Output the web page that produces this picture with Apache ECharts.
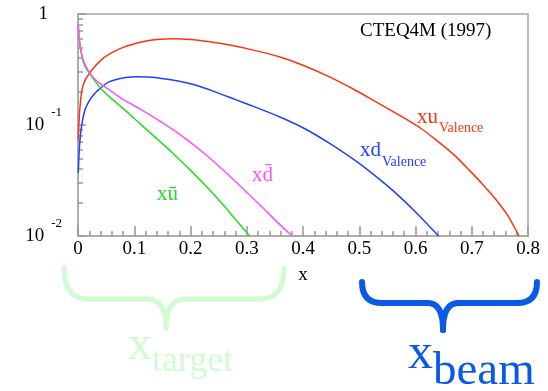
<!DOCTYPE html>
<html>
<head>
<meta charset="utf-8">
<script src="https://cdn.jsdelivr.net/npm/echarts@6/dist/echarts.min.js"></script>
<style>html,body{margin:0;padding:0;background:#fff}#c{width:548px;height:391px}</style>
</head>
<body>
<div id="c"></div>
<script>
// ---- data ----
const xTicks = [0, 0.1, 0.2, 0.3, 0.4, 0.5, 0.6, 0.7, 0.8];
const yDecades = [0.01, 0.1, 1];
const yMinor = [0.02,0.03,0.04,0.05,0.06,0.07,0.08,0.09,0.2,0.3,0.4,0.5,0.6,0.7,0.8,0.9];
const xMinor = [0.02,0.04,0.06,0.08,0.12,0.14,0.16,0.18,0.22,0.24,0.26,0.28,0.32,0.34,0.36,0.38,0.42,0.44,0.46,0.48,0.52,0.54,0.56,0.58,0.62,0.64,0.66,0.68,0.72,0.74,0.76,0.78];

const xuValence = [[0.0005,0.073],[0.0015,0.10],[0.003,0.135],[0.0065,0.20],[0.012,0.25],[0.024,0.31],[0.04,0.38],[0.054,0.43],[0.08,0.50],[0.113,0.56],[0.14,0.59],[0.17,0.60],[0.2,0.59],[0.231,0.565],[0.27,0.525],[0.31,0.475],[0.359,0.41],[0.40,0.345],[0.448,0.27],[0.49,0.21],[0.519,0.174],[0.578,0.117],[0.61,0.093],[0.637,0.073],[0.67,0.053],[0.696,0.039],[0.72,0.029],[0.744,0.021],[0.765,0.015],[0.784,0.01]];
const xdValence = [[0.0005,0.037],[0.0015,0.05],[0.003,0.068],[0.006,0.095],[0.0124,0.137],[0.02,0.165],[0.03,0.193],[0.04,0.215],[0.054,0.243],[0.075,0.262],[0.101,0.272],[0.125,0.270],[0.149,0.263],[0.18,0.248],[0.208,0.229],[0.24,0.202],[0.279,0.17],[0.32,0.142],[0.359,0.118],[0.40,0.0944],[0.448,0.068],[0.49,0.049],[0.519,0.038],[0.56,0.0256],[0.6,0.01644],[0.641,0.01]];
const xUbar = [[0.0005,0.80],[0.002,0.62],[0.0036,0.52],[0.006,0.44],[0.0094,0.37],[0.015,0.32],[0.021,0.29],[0.03,0.25],[0.042,0.21],[0.06,0.172],[0.083,0.137],[0.11,0.103],[0.143,0.073],[0.17,0.0548],[0.202,0.0382],[0.235,0.0257],[0.26,0.0186],[0.28,0.0141],[0.305,0.01]];
const xDbar = [[0.0005,0.80],[0.002,0.62],[0.0036,0.53],[0.006,0.45],[0.0094,0.385],[0.015,0.33],[0.024,0.28],[0.035,0.245],[0.054,0.21],[0.08,0.17],[0.113,0.137],[0.14,0.113],[0.172,0.0885],[0.2,0.0697],[0.231,0.052],[0.255,0.0406],[0.279,0.0313],[0.305,0.0234],[0.329,0.0179],[0.355,0.0132],[0.381,0.01]];

const seriesNames = ['xu Valence', 'xd Valence', 'xū', 'xd̄'];
const seriesColors = ['#ff3311', '#2040ff', '#22dd22', '#ff50ff'];

const FONT = '"Liberation Serif", "DejaVu Serif", serif';
const FRAME = '#a8a8a8';
const TICK = '#999999';

function txt(x, y, text, size, color) {
  return { type: 'text', x: x, y: y, style: { text: text, font: size + 'px ' + FONT, fill: color, verticalAlign: 'middle', align: 'left' } };
}
function bl(b, size) { return b - 0.34 * size; }

function brace(xl, xc, xr, yTop, yMid, yTip, r, rc, color, w) {
  const st = { fill: 'none', stroke: color, lineWidth: w, lineCap: 'round' };
  return { type: 'group', children: [
    { type: 'bezierCurve', shape: { x1: xl, y1: yTop, x2: xl + r, y2: yMid, cpx1: xl, cpy1: yMid }, style: st },
    { type: 'line', shape: { x1: xl + r, y1: yMid, x2: xc - rc, y2: yMid }, style: st },
    { type: 'bezierCurve', shape: { x1: xc - rc, y1: yMid, x2: xc, y2: yTip, cpx1: xc, cpy1: yMid }, style: st },
    { type: 'bezierCurve', shape: { x1: xc, y1: yTip, x2: xc + rc, y2: yMid, cpx1: xc, cpy1: yMid }, style: st },
    { type: 'line', shape: { x1: xc + rc, y1: yMid, x2: xr - r, y2: yMid }, style: st },
    { type: 'bezierCurve', shape: { x1: xr - r, y1: yMid, x2: xr, y2: yTop, cpx1: xr, cpy1: yMid }, style: st }
  ]};
}

const chart = echarts.init(document.getElementById('c'));
chart.setOption({
  animation: false,
  backgroundColor: '#fff',
  grid: { left: 78, right: 20, top: 14, bottom: 155, show: true, borderColor: FRAME, borderWidth: 1.5, backgroundColor: 'transparent' },
  xAxis: [{
    type: 'value', min: 0, max: 0.8, interval: 0.1,
    name: 'x', nameLocation: 'middle', nameGap: 30,
    nameTextStyle: { fontFamily: FONT, fontSize: 19, color: '#000' },
    axisLine: { show: true, lineStyle: { color: FRAME, width: 1.5 } },
    axisTick: { show: true, inside: true, length: 10, lineStyle: { color: TICK, width: 1.5 } },
    axisLabel: { margin: 4, fontFamily: FONT, fontSize: 19, color: '#000',
      formatter: function (v) { return String(Math.round(v * 10) / 10); } },
    splitLine: { show: false }
  }, {
    type: 'value', min: 0, max: 0.8, position: 'bottom',
    axisLine: { show: false },
    axisTick: { show: true, inside: true, length: 5, customValues: xMinor, lineStyle: { color: TICK, width: 1.5 } },
    axisLabel: { show: false },
    splitLine: { show: false }
  }],
  yAxis: [{
    type: 'log', logBase: 10, min: 0.01, max: 1,
    axisLine: { show: true, lineStyle: { color: FRAME, width: 1.5 } },
    axisTick: { show: true, inside: true, length: 8, lineStyle: { color: TICK, width: 1.5 } },
    axisLabel: { margin: 16,
      formatter: function (v) {
        const e = Math.round(Math.log10(v));
        if (e === 0) return '{one|1}';
        return '{b|10}{s|' + e + '}';
      },
      rich: {
        one: { fontFamily: FONT, fontSize: 19, color: '#000', padding: [0, 14, 0, 0] },
        b: { fontFamily: FONT, fontSize: 19, color: '#000' },
        s: { fontFamily: FONT, fontSize: 13, color: '#000', padding: [0, 0, 25, 7] }
      }
    },
    splitLine: { show: false }
  }, {
    type: 'log', logBase: 10, min: 0.01, max: 1, position: 'left',
    axisLine: { show: false },
    axisTick: { show: true, inside: true, length: 5, customValues: yMinor, lineStyle: { color: TICK, width: 1.5 } },
    axisLabel: { show: false },
    splitLine: { show: false }
  }],
  series: [xuValence, xdValence, xUbar, xDbar].map(function (d, i) {
    return { name: seriesNames[i], type: 'line', data: d, showSymbol: false, smooth: 0.2,
      lineStyle: { color: seriesColors[i], width: 1.5 }, xAxisIndex: 0, yAxisIndex: 0, silent: true };
  }),
  graphic: [
    txt(360, bl(37, 19), 'CTEQ4M (1997)', 19, '#000'),
    txt(417, bl(125, 21), 'xu', 21, seriesColors[0]),
    txt(439, bl(133, 14), 'Valence', 14, seriesColors[0]),
    txt(360, bl(158, 21), 'xd', 21, seriesColors[1]),
    txt(382, bl(167, 14), 'Valence', 14, seriesColors[1]),
    txt(252, bl(183, 21), 'xd\u0304', 21, seriesColors[3]),
    txt(157, bl(202, 21), 'x\u016b', 21, seriesColors[2]),
    brace(64, 166, 284, 268, 299, 328, 24, 19, '#d2fbd2', 5),
    brace(362, 443, 537, 282, 303, 330, 20, 15, '#0a5ae6', 6),
    txt(128, bl(363, 48), 'x', 48, '#d2fbd2'),
    txt(152, bl(374, 36), 'target', 36, '#d2fbd2'),
    txt(408, bl(372, 50), 'x', 50, '#0a5ae6'),
    txt(433, bl(388, 47), 'beam', 47, '#0a5ae6')
  ]
});
</script>
</body>
</html>
